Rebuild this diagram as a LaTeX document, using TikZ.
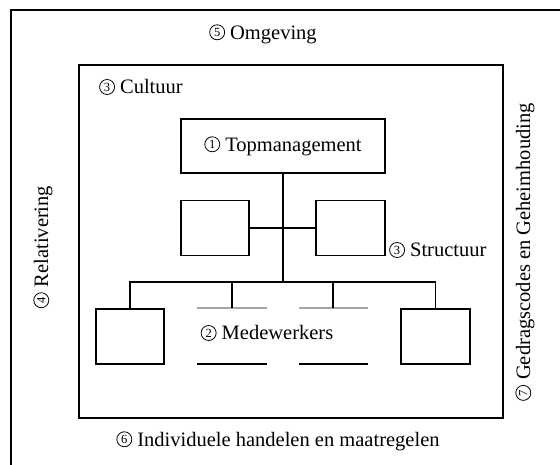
\documentclass[tikz,border=0pt]{standalone}
\usepackage{fontspec}
\setmainfont{Liberation Serif}
% thin circled numeral, set inline with the label text
\newcommand{\cnum}[1]{\tikz[baseline={([yshift=1pt]cn.south)}]
  \node[circle, draw, line width=0.8pt, inner sep=0pt, minimum size=15pt,
        font=\fontsize{12.5}{12.5}\selectfont] (cn) {#1};}
\begin{document}
\begin{tikzpicture}[x=1pt,y=-1pt,
  lbl/.style={font=\fontsize{20.5}{24}\selectfont, inner sep=0pt},
  orgbox/.style={draw, line width=1.8pt, minimum width=68pt, minimum height=55pt, inner sep=0pt},
  link/.style={line width=1.8pt},
  slot/.style={line width=1.2pt}]
\useasboundingbox (0,0) rectangle (560,465);
\fill[white] (0,0) rectangle (560,465);

% environment frame (runs off the page on the right and bottom)
\coordinate (envBL) at (11,466);
\coordinate (envTL) at (11,10);
\coordinate (envTR) at (561,10);
\draw[line width=1.4pt] (envBL) -- (envTL) -- (envTR);

% culture frame
\node[draw, line width=1.8pt, minimum width=424pt, minimum height=353pt, inner sep=0pt] (cult) at (291,241.5) {};

% organisation chart
\node[orgbox, minimum width=204pt, minimum height=54pt, lbl] (top) at (283,146) {\cnum{1} Topmanagement};
\node[orgbox] (ml) at (215,228) {};
\node[orgbox, minimum width=69pt] (mr) at (350.5,228) {};
\node[orgbox] (bl) at (130,336.5) {};
\node[orgbox, minimum width=69pt] (br) at (435.5,336.5) {};

\coordinate (bus) at (top.south |- 0,282);
\coordinate (busL) at (bl.north |- bus);
\coordinate (busR) at (br.north |- bus);
\draw[link] (top.south) -- (bus);
\draw[link] (ml.east) -- (mr.west);
\draw[link, line cap=rect] (busL) -- (busR);
\draw[link] (busL) -- (bl.north);
\draw[link] (busR) -- (br.north);

% staff slots (open boxes)
\coordinate (s1a) at (197,308); \coordinate (s1b) at (267,308);
\coordinate (s1c) at (197,364); \coordinate (s1d) at (267,364);
\coordinate (s2a) at (299,308); \coordinate (s2b) at (368,308);
\coordinate (s2c) at (299,364); \coordinate (s2d) at (368,364);
\coordinate (d1) at (232,282); \coordinate (d1e) at (232,308);
\coordinate (d2) at (333,282); \coordinate (d2e) at (333,308);
\draw[slot, gray!70] (s1a) -- (s1b);
\draw[slot, gray!70] (s2a) -- (s2b);
\draw[slot] (s1c) -- (s1d);
\draw[slot] (s2c) -- (s2d);
\draw[link] (d1) -- (d1e);
\draw[link] (d2) -- (d2e);

% labels
\node[lbl] (omg) at (263,34) {\cnum{5} Omgeving};
\node[lbl, anchor=west] (cul) at (99,87) {\cnum{3} Cultuur};
\node[lbl, anchor=west] (str) at (389,250) {\cnum{3} Structuur};
\node[lbl] (med) at (267,333) {\cnum{2} Medewerkers};
\node[lbl] (ind) at (278,441) {\cnum{6} Individuele handelen en maatregelen};
\node[lbl, rotate=90] (rel) at (43,247) {\cnum{4} Relativering};
\node[lbl, rotate=90] (ged) at (525,252) {\cnum{7} Gedragscodes en Geheimhouding};
\end{tikzpicture}
\end{document}
